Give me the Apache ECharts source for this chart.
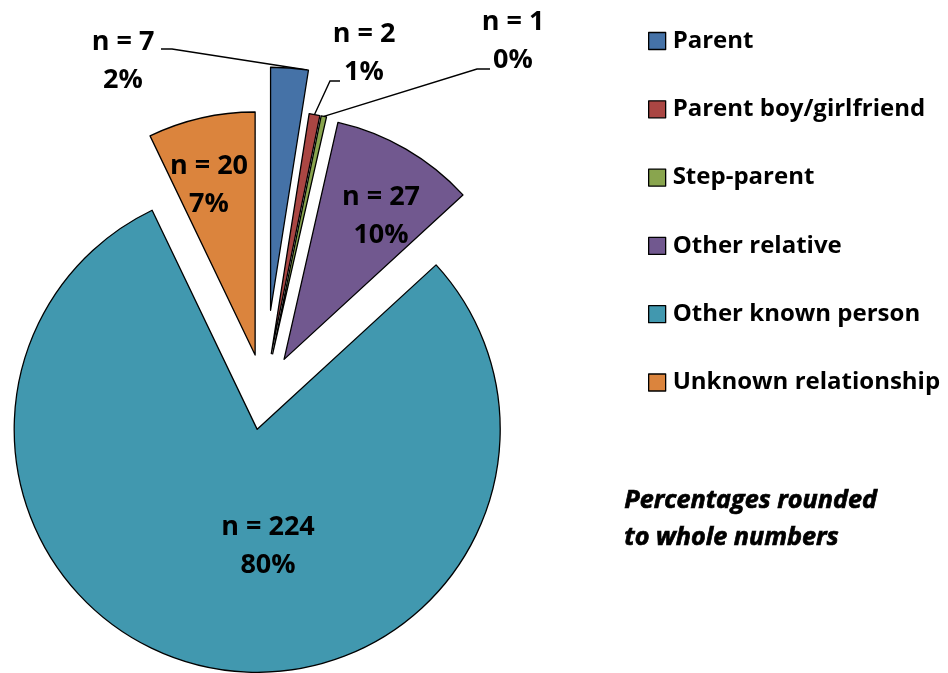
<!DOCTYPE html>
<html><head><meta charset="utf-8">
<script src="https://cdn.jsdelivr.net/npm/echarts@6/dist/echarts.min.js"></script>
<style>html,body{margin:0;padding:0;background:#fff}#c{width:948px;height:673px}</style>
</head><body><div id="c"></div>
<script>
const categories = ['Parent','Parent boy/girlfriend','Step-parent','Other relative','Other known person','Unknown relationship'];
const counts = [7, 2, 1, 27, 224, 20];
const colors = ['#4572A7','#AA4643','#89A54E','#71588F','#4198AF','#DB843D'];
const explode = [84, 41, 41, 40, 36, 40];
const labelPos = [[123,61],[364,53],[513,41],[381,216],[268,546],[209,185]];
const outsideLabel = [true, true, true, false, false, false];
// leader line: start next to label, horizontal run, then to slice arc (fraction across slice)
const leaderStart = [[161,49],[340,81],[490,69],null,null,null];
const leaderRun = [11,-10,-13,0,0,0];
const leaderArcFrac = [0.97,0.5,0.5,0,0,0];
const noteText = 'Percentages rounded\nto whole numbers';

const total = counts.reduce((a,b)=>a+b,0);
const baseCenter = [264, 394];
const R = 243;
const FONT = 'Open Sans';
let acc = 0;
const series = categories.map((name,i)=>{
  const a0 = acc/total*360; acc += counts[i]; const a1 = acc/total*360;
  const mid = (a0+a1)/2*Math.PI/180;
  const cx = baseCenter[0] + explode[i]*Math.sin(mid);
  const cy = baseCenter[1] - explode[i]*Math.cos(mid);
  const aa = (a0 + (a1-a0)*leaderArcFrac[i])*Math.PI/180;
  const anchor = [cx + R*Math.sin(aa), cy - R*Math.cos(aa)];
  return {
    type:'pie', radius: R, center:[cx,cy], startAngle:90, clockwise:true,
    avoidLabelOverlap:false, animation:false, silent:true,
    emphasis:{disabled:true},
    data: categories.map((n,j)=>{
      if (j!==i) return {name:n, value:counts[j], itemStyle:{color:'rgba(0,0,0,0)', borderWidth:0}, label:{show:false}, labelLine:{show:false}};
      return {name:n, value:counts[j],
        itemStyle:{color:colors[j], borderColor:'#000', borderWidth:1.3},
        label:{show:true, position: outsideLabel[j]?'outside':'inside',
          formatter: p => 'n = ' + p.value + '\n' + Math.round(p.value/total*100) + '%',
          fontFamily:FONT, fontWeight:'bold', fontSize:27, lineHeight:38, color:'#000', align:'center'},
        labelLine:{show:outsideLabel[j], length:10, length2:10, lineStyle:{color:'#000', width:1.4}}};
    }),
    labelLayout: (params)=> {
      if (params.dataIndex!==i) return {};
      const o = {x: labelPos[i][0], y: labelPos[i][1], align:'center', verticalAlign:'middle'};
      if (leaderStart[i]) {
        const s = leaderStart[i];
        o.labelLinePoints = [anchor, [s[0]+leaderRun[i], s[1]], s];
      }
      return o;
    }
  };
});

const chart = echarts.init(document.getElementById('c'));
chart.setOption({
  backgroundColor:'#fff',
  legend:{
    orient:'vertical', left:648, top:29, padding:0,
    itemWidth:17, itemHeight:17, itemGap:44.3, icon:'rect', selectedMode:false,
    data: categories.map((n,i)=>({name:n, itemStyle:{color:colors[i], borderColor:'#000', borderWidth:1.3}})),
    textStyle:{fontFamily:FONT, fontWeight:'bold', fontSize:24, color:'#000', padding:[0,0,0,2]}
  },
  graphic:[{type:'text', left:624, top:482, style:{text:noteText, fontFamily:FONT, fontWeight:'bold', fontStyle:'italic', fontSize:25.2, lineHeight:37, fill:'#000', stroke:'#000', lineWidth:0.7}}],
  series
});
</script></body></html>
